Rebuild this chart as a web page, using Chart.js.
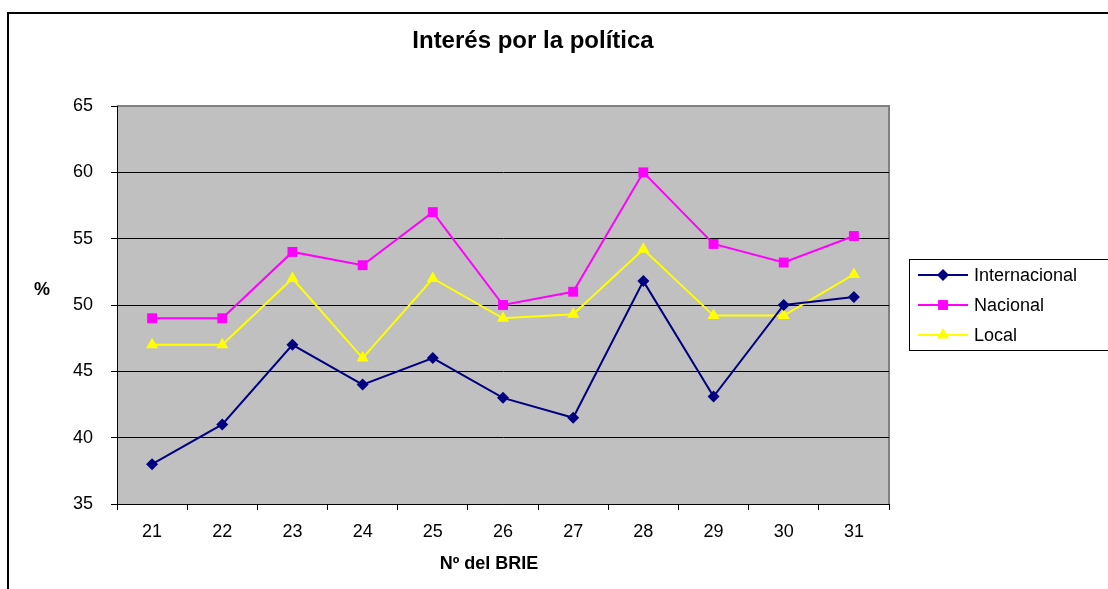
<!DOCTYPE html>
<html>
<head>
<meta charset="utf-8">
<script src="https://cdn.jsdelivr.net/npm/chart.js@4"></script>
<style>
  html, body { margin: 0; padding: 0; background: #ffffff; }
  #wrap { width: 1108px; height: 589px; }
</style>
</head>
<body>
<div id="wrap"><canvas id="chart" width="1108" height="589"></canvas></div>
<script>
const categories = ["21", "22", "23", "24", "25", "26", "27", "28", "29", "30", "31"];
const internacional = [38, 41, 47, 44, 46, 43, 41.5, 51.8, 43.1, 50, 50.6];
const nacional = [49, 49, 54, 53, 57, 50, 51, 60, 54.6, 53.2, 55.2];
const local = [47, 47, 52, 46, 52, 49, 49.3, 54.2, 49.2, 49.2, 52.3];
const seriesNames = ["Internacional", "Nacional", "Local"];
const yTicks = [35, 40, 45, 50, 55, 60, 65];

const fontFamily = "'Liberation Sans', Arial, sans-serif";

// frame, plot background, titles and legend
const decorPlugin = {
  id: "decor",
  beforeDraw(chart) {
    const ctx = chart.ctx;
    const area = chart.chartArea;
    ctx.save();
    ctx.fillStyle = "#ffffff";
    ctx.fillRect(0, 0, chart.width, chart.height);
    ctx.strokeStyle = "#000000";
    ctx.lineWidth = 2;
    ctx.strokeRect(8, 13, 1300, 1000);
    ctx.fillStyle = "#c0c0c0";
    ctx.fillRect(area.left, area.top, area.right - area.left, area.bottom - area.top);
    ctx.strokeStyle = "#808080";
    ctx.lineWidth = 2;
    ctx.beginPath();
    ctx.moveTo(area.left, area.top);
    ctx.lineTo(area.right, area.top);
    ctx.lineTo(area.right, area.bottom);
    ctx.stroke();
    ctx.restore();
  },
  afterDraw(chart) {
    const ctx = chart.ctx;
    ctx.save();
    ctx.fillStyle = "#000000";
    ctx.textAlign = "center";
    ctx.textBaseline = "middle";
    ctx.font = "bold 24px " + fontFamily;
    ctx.fillText("Interés por la política", 533, 41);
    ctx.font = "bold 18px " + fontFamily;
    ctx.fillText("%", 42, 290);
    ctx.fillText("Nº del BRIE", 489, 564);

    // legend
    ctx.strokeStyle = "#000000";
    ctx.lineWidth = 1;
    ctx.strokeRect(909.5, 259.5, 210, 91);
    chart.data.datasets.forEach((ds, i) => {
      const y = 275 + i * 30;
      ctx.strokeStyle = ds.borderColor;
      ctx.lineWidth = 2;
      ctx.beginPath();
      ctx.moveTo(918, y);
      ctx.lineTo(968, y);
      ctx.stroke();
      ctx.fillStyle = ds.backgroundColor;
      Chart.helpers.drawPoint(ctx, {
        pointStyle: ds.pointStyle,
        radius: ds.pointRadius,
        borderWidth: 0,
        rotation: 0
      }, 943, y);
      ctx.fillStyle = "#000000";
      ctx.textAlign = "left";
      ctx.font = "18px " + fontFamily;
      ctx.fillText(ds.label, 974, y + 1);
    });
    ctx.restore();
  }
};

function makeSeries(label, data, color, style, radius) {
  return {
    label: label,
    data: data,
    borderColor: color,
    backgroundColor: color,
    borderWidth: 2,
    pointStyle: style,
    pointRadius: radius,
    pointHoverRadius: radius,
    pointBorderWidth: 0,
    tension: 0,
    fill: false
  };
}

new Chart(document.getElementById("chart"), {
  type: "line",
  data: {
    labels: categories,
    datasets: [
      makeSeries(seriesNames[0], internacional, "#000080", "rectRot", 6),
      makeSeries(seriesNames[1], nacional, "#ff00ff", "rect", 7),
      makeSeries(seriesNames[2], local, "#ffff00", "triangle", 7)
    ]
  },
  options: {
    responsive: false,
    animation: false,
    events: [],
    layout: {
      padding: { left: 8, top: 106, right: 219, bottom: 0 }
    },
    plugins: {
      legend: { display: false },
      title: { display: false },
      tooltip: { enabled: false }
    },
    scales: {
      x: {
        type: "category",
        offset: true,
        grid: {
          offset: true,
          drawOnChartArea: false,
          drawTicks: true,
          tickLength: 6,
          tickColor: "#000000",
          lineWidth: 1
        },
        border: { display: true, color: "#000000", width: 1 },
        ticks: {
          color: "#000000",
          font: { family: fontFamily, size: 18 },
          padding: 11,
          maxRotation: 0,
          autoSkip: false
        },
        afterFit(scale) { scale.height = 85; }
      },
      y: {
        min: yTicks[0],
        max: yTicks[yTicks.length - 1],
        afterBuildTicks(scale) {
          scale.ticks = yTicks.map((v) => ({ value: v }));
        },
        grid: {
          color: (c) => (c.tick && c.tick.value === 65 ? "#808080" : "#000000"),
          tickColor: "#000000",
          tickLength: 6,
          lineWidth: 1
        },
        border: { display: true, color: "#000000", width: 1 },
        ticks: {
          color: "#000000",
          font: { family: fontFamily, size: 18 },
          padding: 18
        },
        afterFit(scale) { scale.width = 109; }
      }
    }
  },
  plugins: [decorPlugin]
});
</script>
</body>
</html>
